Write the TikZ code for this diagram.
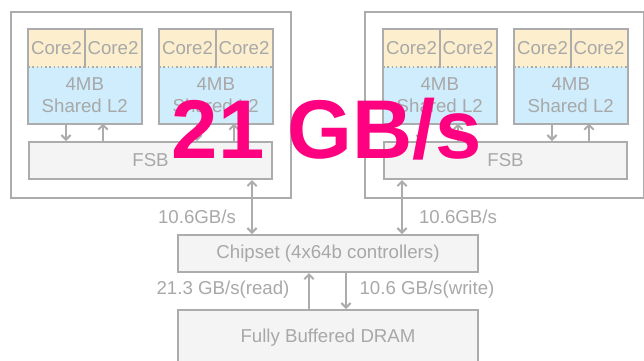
\documentclass[tikz,border=0pt]{standalone}
\usepackage{fontspec}
\setmainfont{Liberation Sans}
\usetikzlibrary{arrows.meta, positioning}
\definecolor{framegray} {RGB}{172,172,172}
\definecolor{textgray}  {RGB}{168,168,168}
\definecolor{corefill}  {RGB}{253,239,206}
\definecolor{cachefill} {RGB}{207,237,253}
\definecolor{busfill}   {RGB}{244,244,244}
\definecolor{hotpink}   {RGB}{255,  0,128}
\newcommand{\pxl}{0.75pt}
\tikzset{
  frame/.style      = {draw=framegray, line width=1.5pt},
  box/.style        = {frame, inner sep=0pt, anchor=north west, text=textgray,
                       font=\fontsize{14}{16.5}\selectfont},
  socket box/.style = {box, minimum width=280*\pxl, minimum height=186*\pxl},
  bus box/.style    = {box, fill=busfill, minimum width=243*\pxl, minimum height=37*\pxl},
  wide box/.style   = {box, fill=busfill, minimum width=300*\pxl},
  core cell/.style  = {inner sep=0pt, anchor=north west, fill=corefill, text=textgray,
                       minimum width=56.5*\pxl, minimum height=38*\pxl,
                       font=\fontsize{14}{16.5}\selectfont},
  cache cell/.style = {inner sep=0pt, anchor=north west, fill=cachefill, text=textgray,
                       minimum width=113*\pxl, minimum height=56*\pxl, align=center,
                       font=\fontsize{14}{16.5}\selectfont},
  link/.style       = {frame, -{Straight Barb[length=3.5pt, width=7pt]}},
  both link/.style  = {frame, {Straight Barb[length=3.5pt, width=7pt]}-{Straight Barb[length=3.5pt, width=7pt]}},
  rate label/.style = {text=textgray, inner sep=0pt, font=\fontsize{14}{16.5}\selectfont},
}

\begin{document}
\begin{tikzpicture}[x=0.75pt, y=-0.75pt]

  \useasboundingbox (0,0) rectangle (644,361);
  \clip (0,0) rectangle (644,361);

  % sockets and their front side buses
  \node[socket box] (sockL) at (10, 11) {};
  \node[socket box, minimum width=279*\pxl] (sockR) at (364, 11) {};
  \node[bus box] (fsbL) at (28, 141) {FSB};
  \node[bus box] (fsbR) at (383, 141) {FSB};

  % ── two cores + shared L2 per die ────────────────────────────────────────
  \foreach \g/\x/\bus in {A/28/fsbL, B/159/fsbL, C/383/fsbR, D/514/fsbR}{
    \node[core cell] (core\g1) at (\x, 29) {Core2};
    \node[core cell] (core\g2) at (\x+56.5, 29) {Core2};
    \node[cache cell] (cache\g) at (\x, 67) {4MB\\Shared L2};
    \draw[frame] (core\g1.north west) rectangle (cache\g.south east);
    \draw[frame] (core\g1.north east) -- (core\g1.south east);
    \draw[framegray, line width=1.2pt, dotted] (cache\g.north west) -- (cache\g.north east);
    % die <-> bus
    \coordinate (dn\g) at ([xshift=38*\pxl]cache\g.south west);
    \coordinate (up\g) at ([xshift=75*\pxl]cache\g.south west);
    \draw[link] (dn\g) -- (dn\g |- \bus.north);
    \draw[link] (up\g |- \bus.north) -- (up\g);
  }

  % ── chipset and memory ───────────────────────────────────────────────────
  \node[wide box, minimum height=37*\pxl] (chipset) at (177, 234)
    {Chipset (4x64b controllers)};
  \node[wide box, minimum height=56*\pxl] (dram) at (177, 309)
    {Fully Buffered DRAM};

  \coordinate (busL) at ([xshift=224*\pxl]fsbL.south west);
  \coordinate (busR) at ([xshift=19*\pxl]fsbR.south west);
  \draw[both link] (busL) -- (busL |- chipset.north);
  \draw[both link] (busR) -- (busR |- chipset.north);

  \coordinate (rd) at ([xshift=132*\pxl]dram.north west);
  \coordinate (wr) at ([xshift=169*\pxl]dram.north west);
  \draw[link] (rd) -- (rd |- chipset.south);
  \draw[link] (wr |- chipset.south) -- (wr);

  % bandwidth labels
  \node[rate label] (bwL) at (197, 217) {10.6GB/s};
  \node[rate label] (bwR) at (458, 217) {10.6GB/s};
  \node[rate label] (bwRead) at (223, 290) {21.3 GB/s(read)};
  \node[rate label] (bwWrite) at (427, 290) {10.6 GB/s(write)};

  % headline
  \node[hotpink, inner sep=0pt, anchor=base, font=\fontsize{62.5}{62.5}\selectfont\bfseries]
    (total) at (327, 158) {21 GB/s};

\end{tikzpicture}
\end{document}
